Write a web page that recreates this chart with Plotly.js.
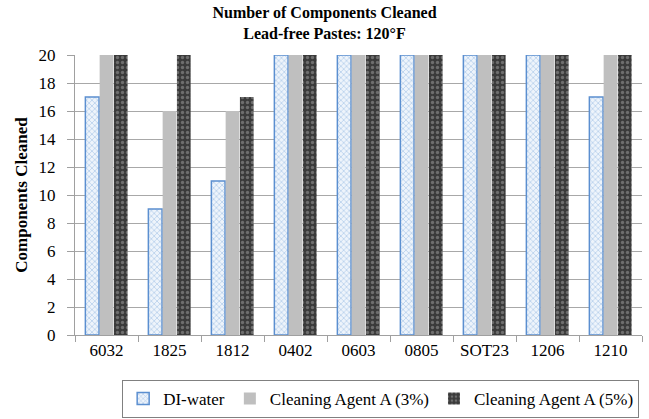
<!DOCTYPE html>
<html><head><meta charset="utf-8">
<script src="https://cdn.plot.ly/plotly-3.0.1.min.js"></script>
<style>body{margin:0;background:#fff}#c{width:649px;height:419px}</style>
</head><body><div id="c"></div>
<script>
const categories = ["6032","1825","1812","0402","0603","0805","SOT23","1206","1210"];
const diWater = [17,9,11,20,20,20,20,20,17];
const agent3 = [20,16,16,20,20,20,20,20,20];
const agent5 = [20,20,17,20,20,20,20,20,20];
const seriesNames = ["DI-water","Cleaning Agent A (3%)","Cleaning Agent A (5%)"];

const serif = "Liberation Serif, Times New Roman, serif";
const traces = [
  {type:"bar", x:categories, y:diWater, name:seriesNames[0],
   marker:{color:"#dce9f7", line:{color:"#5b8fd0", width:1.5},
     pattern:{shape:"x", fgcolor:"#a9c6e8", bgcolor:"#eef4fb", size:4, solidity:0.3}}},
  {type:"bar", x:categories, y:agent3, name:seriesNames[1],
   marker:{color:"#bfbfbf", line:{width:0}}},
  {type:"bar", x:categories, y:agent5, name:seriesNames[2],
   marker:{color:"#404040", line:{width:0},
     pattern:{shape:".", fgcolor:"#6e6e6e", bgcolor:"#3a3a3a", size:5, solidity:0.35}}}
];
const layout = {
  width:649, height:419,
  margin:{l:75, r:7, t:55, b:84, autoexpand:false},
  paper_bgcolor:"#fff", plot_bgcolor:"#fff",
  title:{text:"<b>Number of Components Cleaned<br>Lead-free Pastes: 120°F</b>",
    font:{family:serif, size:16, color:"#000"}, x:0.5, xanchor:"center",
    yref:"paper", y:1, yanchor:"bottom", pad:{b:37}},
  barmode:"group", bargap:0.32, bargroupgap:0.04,
  font:{family:serif, color:"#000"},
  xaxis:{type:"category", tickfont:{family:serif, size:17, color:"#000"},
    showline:true, linecolor:"#a0a0a0", linewidth:1, ticks:"outside", tickson:"boundaries",
    ticklen:6, tickcolor:"#a0a0a0", showgrid:false, automargin:false},
  yaxis:{range:[0,20], dtick:2, tick0:0, tickfont:{family:serif, size:17, color:"#000"},
    showline:true, linecolor:"#a0a0a0", linewidth:1, ticks:"outside", ticklen:7, tickcolor:"#a0a0a0",
    ticklabelstandoff:8, automargin:false,
    gridcolor:"#a8a8a8", gridwidth:1, zeroline:false,
    title:{text:"<b>Components Cleaned</b>", font:{family:serif, size:17, color:"#000"}, standoff:6}},
  legend:{orientation:"h", x:0.995, xanchor:"right", yref:"container", y:0.093, yanchor:"top",
    bordercolor:"#808080", borderwidth:1, font:{family:serif, size:17, color:"#000"},
    itemwidth:30, tracegroupgap:0},
  showlegend:true
};
Plotly.newPlot("c", traces, layout, {displayModeBar:false, staticPlot:true});
</script></body></html>
